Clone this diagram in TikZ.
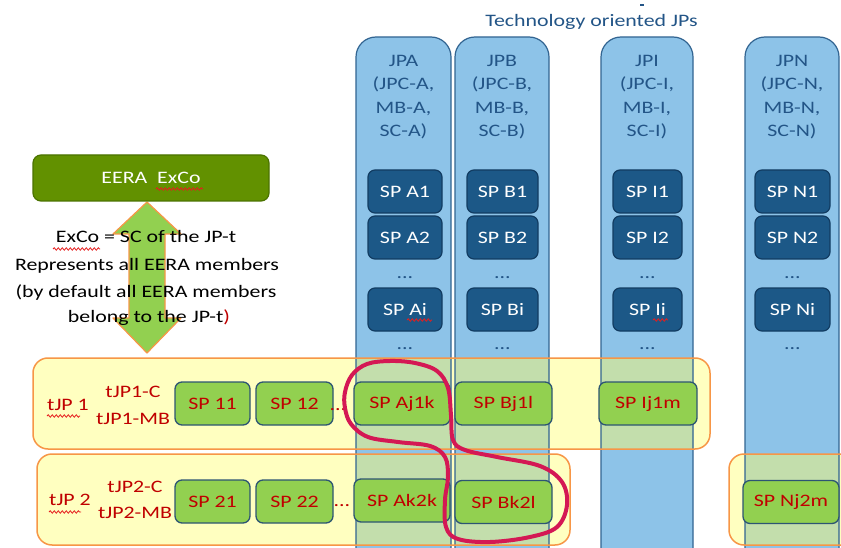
\documentclass[tikz,border=0pt]{standalone}
\usepackage{fontspec}
\setmainfont{Carlito}[FakeStretch=1.25]
\usetikzlibrary{decorations.pathmorphing}
\definecolor{colblue}{RGB}{141,195,232}
\definecolor{coledge}{RGB}{50,100,145}
\definecolor{overlap}{RGB}{195,222,172}
\definecolor{rowyellow}{RGB}{255,255,192}
\definecolor{roworange}{RGB}{247,150,70}
\definecolor{spfill}{RGB}{28,88,135}
\definecolor{spedge}{RGB}{18,60,98}
\definecolor{boxgreen}{RGB}{146,208,80}
\definecolor{greenedge}{RGB}{45,85,115}
\definecolor{redtext}{RGB}{192,0,0}
\definecolor{excofill}{RGB}{98,145,0}
\definecolor{excoedge}{RGB}{75,115,0}
\definecolor{titleblue}{RGB}{35,85,135}
\definecolor{loopred}{RGB}{212,24,84}
\definecolor{wavyred}{RGB}{230,30,30}
\begin{document}
\begin{tikzpicture}[x=1pt,y=-1pt,
  every node/.style={font=\fontsize{17.5}{21}\selectfont, inner sep=0},
  spblue/.style={rectangle, rounded corners=7, fill=spfill, draw=spedge, line width=1.2, text=white, minimum height=43},
  spgreen/.style={rectangle, rounded corners=7, fill=boxgreen, draw=greenedge, line width=1.3, text=redtext, minimum height=43},
  coltext/.style={anchor=base, text=titleblue},
  redlabel/.style={anchor=base, text=redtext},
  wavy/.style={wavyred, line width=0.8, decorate, decoration={snake, amplitude=1.2, segment length=4}},
  colborder/.style={coledge, line width=1.2, rounded corners=20},
  rowborder/.style={roworange, line width=1.5, rounded corners=15}
]
\clip (0,0) rectangle (841,548);
\fill[white] (0,0) rectangle (841,548);

% rows (fill)
\fill[rowyellow, rounded corners=15] (33,358) rectangle (710,449);
\fill[rowyellow, rounded corners=15] (37,454) rectangle (570,545);
\fill[rowyellow, rounded corners=15] (729,454) rectangle (880,545);

% columns (fill)
\fill[colblue, rounded corners=20] (356,37) rectangle (451,600);
\fill[colblue, rounded corners=20] (455,37) rectangle (549,600);
\fill[colblue, rounded corners=20] (601,37) rectangle (693,600);
\fill[colblue, rounded corners=20] (745,37) rectangle (839,600);

% overlaps
\begin{scope}
\clip[rounded corners=15] (33,358) rectangle (710,449) (37,454) rectangle (570,545) (729,454) rectangle (880,545);
\fill[overlap, rounded corners=20] (356,37) rectangle (451,600) (455,37) rectangle (549,600) (601,37) rectangle (693,600) (745,37) rectangle (839,600);
\end{scope}

% borders
\draw[colborder] (356,37) rectangle (451,600);
\draw[colborder] (455,37) rectangle (549,600);
\draw[colborder] (601,37) rectangle (693,600);
\draw[colborder] (745,37) rectangle (839,600);
\draw[rowborder] (33,358) rectangle (710,449);
\draw[rowborder] (37,454) rectangle (570,545);
\draw[rowborder] (729,454) rectangle (880,545);

% title
\node[coltext] (title) at (591.5,27) {Technology oriented JPs};
\fill[titleblue] (640,4) rectangle (644,6);

% column headers
\node[coltext] (ha1) at (403.5,67) {JPA};
\node[coltext] (ha2) at (403.5,90) {(JPC-A,};
\node[coltext] (ha3) at (403.5,114) {MB-A,};
\node[coltext] (ha4) at (403.5,137) {SC-A)};
\node[coltext] (hb1) at (502,67) {JPB};
\node[coltext] (hb2) at (502,90) {(JPC-B,};
\node[coltext] (hb3) at (502,114) {MB-B,};
\node[coltext] (hb4) at (502,137) {SC-B)};
\node[coltext] (hi1) at (647,67) {JPI};
\node[coltext] (hi2) at (647,90) {(JPC-I,};
\node[coltext] (hi3) at (647,114) {MB-I,};
\node[coltext] (hi4) at (647,137) {SC-I)};
\node[coltext] (hn1) at (792,67) {JPN};
\node[coltext] (hn2) at (792,90) {(JPC-N,};
\node[coltext] (hn3) at (792,114) {MB-N,};
\node[coltext] (hn4) at (792,137) {SC-N)};

% blue SP boxes
\node[spblue, minimum width=74] (a1) at (405,191.5) {SP A1};
\node[spblue, minimum width=74] (a2) at (405,237.5) {SP A2};
\node[spblue, minimum width=74] (ai) at (405,309.5) {SP Ai};
\node[spblue, minimum width=71] (b1) at (502.5,191.5) {SP B1};
\node[spblue, minimum width=71] (b2) at (502.5,237.5) {SP B2};
\node[spblue, minimum width=71] (bi) at (502.5,309.5) {SP Bi};
\node[spblue, minimum width=69] (i1) at (647.5,191.5) {SP I1};
\node[spblue, minimum width=69] (i2) at (647.5,237.5) {SP I2};
\node[spblue, minimum width=69] (ii) at (647.5,309.5) {SP Ii};
\node[spblue, minimum width=75] (n1) at (792.5,191.5) {SP N1};
\node[spblue, minimum width=75] (n2) at (792.5,237.5) {SP N2};
\node[spblue, minimum width=75] (ni) at (792.5,309.5) {SP Ni};
\node[coltext] (ad1) at (405,279) {...};
\node[coltext] (ad2) at (405,349) {...};
\node[coltext] (bd1) at (502.5,279) {...};
\node[coltext] (bd2) at (502.5,349) {...};
\node[coltext] (id1) at (647.5,279) {...};
\node[coltext] (id2) at (647.5,349) {...};
\node[coltext] (nd1) at (792.5,279) {...};
\node[coltext] (nd2) at (792.5,349) {...};
\draw[wavy] (407,320) -- (432,320);
\draw[wavy] (653,320) -- (668,320);

% ExCo and arrow
\draw[fill=boxgreen, draw=roworange, line width=1.2, line join=round]
  (147,202) -- (113,234) -- (129,234) -- (129,318) -- (113,318) -- (147,353)
  -- (181,318) -- (165,318) -- (165,234) -- (181,234) -- cycle;
\node[rectangle, rounded corners=8, fill=excofill, draw=excoedge, line width=1.2,
  text=white, minimum width=236, minimum height=46] (exco) at (151,178) {EERA\ \ ExCo};
\draw[wavy] (156,189) -- (203,189);
\node[anchor=base] (m1) at (146,243) {ExCo = SC of the JP-t};
\node[anchor=base] (m2) at (147,271) {Represents all EERA members};
\node[anchor=base] (m3) at (146,298) {(by default all EERA members};
\node[anchor=base] (m4) at (149,323) {belong to the JP-t\textcolor{redtext}{)}};
\draw[wavy] (53,249) -- (100,249);

% row labels
\node[redlabel] (r1) at (68,410) {tJP 1};
\node[redlabel] (r1c) at (133,397) {tJP1-C};
\node[redlabel] (r1m) at (133,424) {tJP1-MB};
\node[redlabel] (r2) at (70,505) {tJP 2};
\node[redlabel] (r2c) at (135,492) {tJP2-C};
\node[redlabel] (r2m) at (135,518) {tJP2-MB};
\draw[wavy] (47,416) -- (80,416);
\draw[wavy] (49,512) -- (81,512);

% green SP boxes
\node[spgreen, minimum width=75] (s11) at (212.5,403.5) {SP 11};
\node[spgreen, minimum width=77] (s12) at (294.5,403.5) {SP 12};
\node[redlabel] (rd1) at (338,410) {...};
\node[spgreen, minimum width=96] (aj1k) at (402,403.5) {SP Aj1k};
\node[spgreen, minimum width=97] (bj1l) at (503.5,403.5) {SP Bj1l};
\node[spgreen, minimum width=98] (ij1m) at (648,403.5) {SP Ij1m};
\node[spgreen, minimum width=75] (s21) at (212.5,501.5) {SP 21};
\node[spgreen, minimum width=77] (s22) at (294.5,501.5) {SP 22};
\node[redlabel] (rd2) at (342,506) {...};
\node[spgreen, minimum width=96] (ak2k) at (402,500.5) {SP Ak2k};
\node[spgreen, minimum width=97] (bk2l) at (503.5,502) {SP Bk2l};
\node[spgreen, minimum width=96] (nj2m) at (791,502) {SP Nj2m};

% red loop
\draw[loopred, line width=4] plot[smooth cycle, tension=0.6] coordinates {
 (345,392) (352,375) (367,364) (390,361) (415,363) (437,371) (448,388)
 (451,415) (453,440) (465,450) (497,457) (540,466) (562,482) (567,505)
 (557,527) (530,537) (490,542) (458,539) (446,527) (445,500) (448,477)
 (445,457) (430,446) (398,442) (368,437) (351,424) (345,408)};
\end{tikzpicture}
\end{document}
